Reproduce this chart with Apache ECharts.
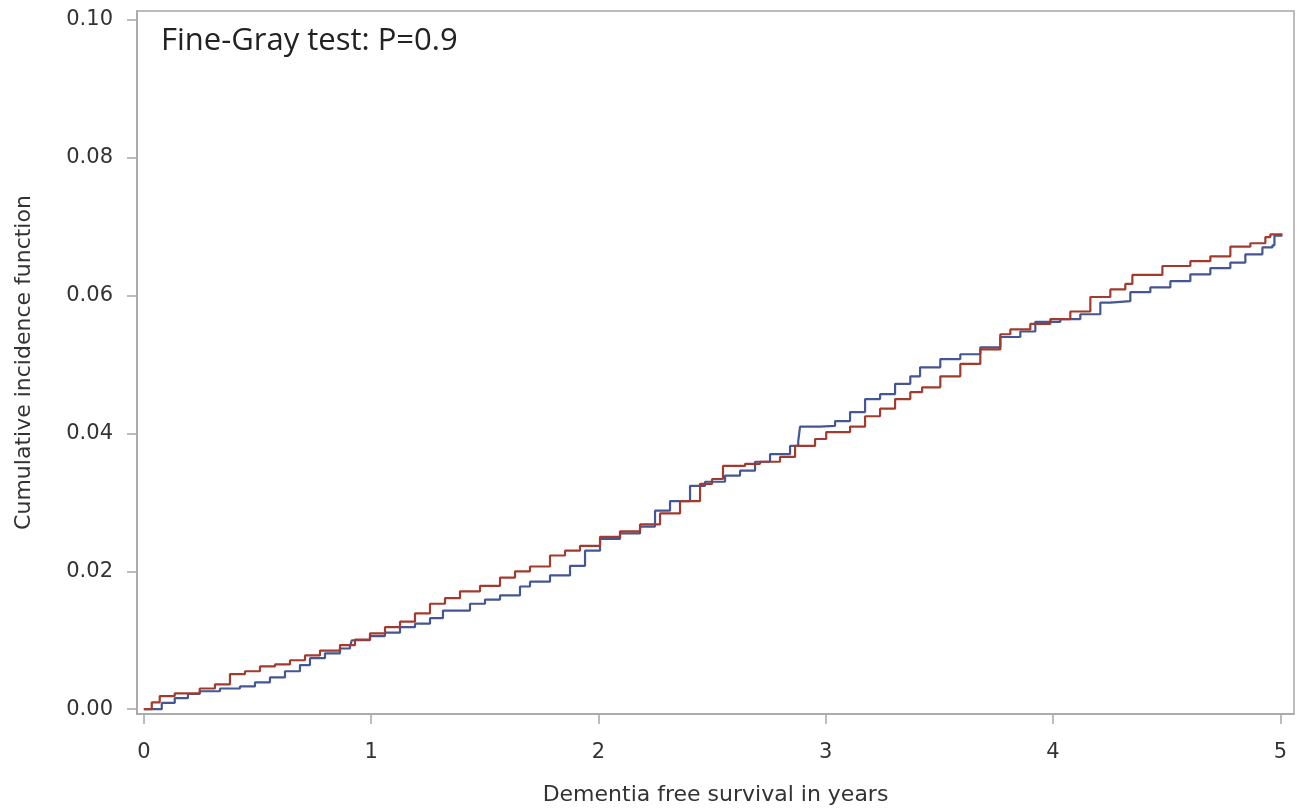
<!DOCTYPE html>
<html>
<head>
<meta charset="utf-8">
<script src="https://cdn.jsdelivr.net/npm/echarts@6/dist/echarts.min.js"></script>
<style>
html, body { margin: 0; padding: 0; background: #fff; }
#main { width: 1303px; height: 811px; }
</style>
</head>
<body>
<div id="main"></div>
<script>
// years / cumulative incidence
var redTime = [0, 0.035, 0.070, 0.136, 0.246, 0.313, 0.379, 0.445, 0.511, 0.577, 0.643, 0.709, 0.775, 0.863, 0.929, 0.995, 1.061, 1.127, 1.193, 1.259, 1.325, 1.391, 1.479, 1.567, 1.633, 1.699, 1.787, 1.853, 1.919, 2.007, 2.095, 2.183, 2.271, 2.359, 2.447, 2.500, 2.548, 2.645, 2.711, 2.799, 2.865, 2.953, 3.002, 3.107, 3.173, 3.239, 3.305, 3.372, 3.424, 3.504, 3.592, 3.680, 3.768, 3.812, 3.900, 3.988, 4.076, 4.164, 4.252, 4.318, 4.349, 4.481, 4.604, 4.692, 4.780, 4.868, 4.934, 4.956, 5.009];
var redCif = [0, 0.0010, 0.0019, 0.0023, 0.0030, 0.0036, 0.0051, 0.0055, 0.0062, 0.0065, 0.0071, 0.0078, 0.0085, 0.0093, 0.0101, 0.0110, 0.0119, 0.0127, 0.0139, 0.0153, 0.0161, 0.0171, 0.0179, 0.0191, 0.0200, 0.0207, 0.0223, 0.0230, 0.0237, 0.0250, 0.0258, 0.0268, 0.0284, 0.0302, 0.0327, 0.0334, 0.0353, 0.0356, 0.0359, 0.0366, 0.0382, 0.0392, 0.0402, 0.0410, 0.0425, 0.0436, 0.0450, 0.0460, 0.0467, 0.0483, 0.0501, 0.0522, 0.0544, 0.0551, 0.0559, 0.0566, 0.0577, 0.0598, 0.0609, 0.0617, 0.0630, 0.0643, 0.0650, 0.0657, 0.0671, 0.0676, 0.0685, 0.0689, 0.0689];

var blueTime = [0, 0.079, 0.136, 0.194, 0.246, 0.335, 0.423, 0.489, 0.555, 0.621, 0.687, 0.731, 0.797, 0.863, 0.907, 0.915, 0.995, 1.061, 1.127, 1.193, 1.259, 1.316, 1.435, 1.501, 1.567, 1.655, 1.699, 1.787, 1.875, 1.941, 2.007, 2.095, 2.183, 2.249, 2.315, 2.403, 2.469, 2.557, 2.623, 2.689, 2.755, 2.843, 2.879, 2.887, 2.975, 3.041, 3.107, 3.173, 3.239, 3.305, 3.372, 3.415, 3.504, 3.592, 3.680, 3.768, 3.856, 3.922, 4.032, 4.120, 4.208, 4.252, 4.340, 4.428, 4.516, 4.604, 4.692, 4.780, 4.846, 4.921, 4.965, 4.974, 5.009];
var blueCif = [0, 0.0009, 0.0016, 0.0022, 0.0026, 0.0030, 0.0033, 0.0039, 0.0046, 0.0055, 0.0064, 0.0074, 0.0081, 0.0088, 0.0091, 0.0100, 0.0106, 0.0111, 0.0119, 0.0124, 0.0132, 0.0143, 0.0153, 0.0159, 0.0165, 0.0178, 0.0185, 0.0194, 0.0208, 0.0230, 0.0247, 0.0255, 0.0265, 0.0288, 0.0302, 0.0324, 0.0330, 0.0339, 0.0346, 0.0359, 0.0370, 0.0382, 0.0389, 0.0410, 0.0411, 0.0418, 0.0431, 0.0450, 0.0457, 0.0472, 0.0483, 0.0496, 0.0508, 0.0515, 0.0525, 0.0540, 0.0548, 0.0562, 0.0566, 0.0573, 0.0590, 0.0592, 0.0605, 0.0612, 0.0621, 0.0631, 0.0640, 0.0648, 0.0660, 0.0670, 0.0673, 0.0687, 0.0687];

var xTicks = [0, 1, 2, 3, 4, 5];
var yTicks = [0, 0.02, 0.04, 0.06, 0.08, 0.10];

function zip(a, b) {
    return a.map(function (v, i) { return [v, b[i]]; });
}

var myChart = echarts.init(document.getElementById('main'));

var axisGray = '#a6a6a6';
var textColor = '#333';

var option = {
    animation: false,
    backgroundColor: '#fff',
    grid: {
        left: 137, top: 11, right: 9, bottom: 95,
        show: true,
        borderColor: axisGray,
        borderWidth: 1.5
    },
    graphic: [{
        type: 'text',
        left: 161,
        top: 26,
        style: {
            text: 'Fine-Gray test: P=0.9',
            font: '31px "Open Sans"',
            fill: '#222'
        }
    }],
    xAxis: {
        type: 'value',
        min: -0.03,
        max: 5.06,
        name: 'Dementia free survival in years',
        nameLocation: 'middle',
        nameGap: 70,
        nameTextStyle: { fontFamily: 'DejaVu Sans', fontSize: 22, color: textColor },
        axisLine: { show: true, onZero: false, lineStyle: { color: axisGray, width: 1.5 } },
        axisTick: { show: true, length: 10, customValues: xTicks, lineStyle: { color: axisGray, width: 1.5 } },
        axisLabel: {
            customValues: xTicks,
            margin: 28,
            fontFamily: 'DejaVu Sans',
            fontSize: 21,
            color: textColor
        },
        splitLine: { show: false }
    },
    yAxis: {
        type: 'value',
        min: -0.0007,
        max: 0.1013,
        name: 'Cumulative incidence function',
        nameLocation: 'middle',
        nameGap: 102,
        nameTextStyle: { fontFamily: 'DejaVu Sans', fontSize: 22, color: textColor },
        axisLine: { show: true, onZero: false, lineStyle: { color: axisGray, width: 1.5 } },
        axisTick: { show: true, length: 10, customValues: yTicks, lineStyle: { color: axisGray, width: 1.5 } },
        axisLabel: {
            customValues: yTicks,
            margin: 24,
            fontFamily: 'DejaVu Sans',
            fontSize: 21,
            color: textColor,
            formatter: function (v) { return v.toFixed(2); }
        },
        splitLine: { show: false }
    },
    series: [{
        name: 'blue',
        type: 'line',
        step: 'end',
        showSymbol: false,
        data: zip(blueTime, blueCif),
        lineStyle: { color: '#445694', width: 2.2 },
        itemStyle: { color: '#445694' }
    }, {
        name: 'red',
        type: 'line',
        step: 'end',
        showSymbol: false,
        data: zip(redTime, redCif),
        lineStyle: { color: '#a23a2e', width: 2.2 },
        itemStyle: { color: '#a23a2e' }
    }]
};

myChart.setOption(option);
</script>
</body>
</html>
